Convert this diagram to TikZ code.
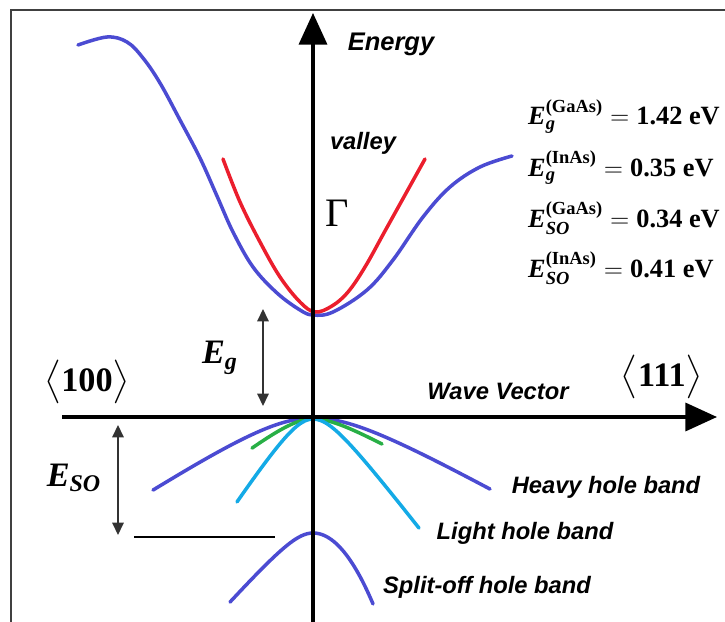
\documentclass[tikz,border=0pt]{standalone}
\usepackage{amsmath}
\usepackage{fontspec}
\setmainfont{Liberation Serif}
\newfontfamily\bandfont{Liberation Sans}
\usetikzlibrary{arrows.meta}
\definecolor{bandblue}{RGB}{75,75,210}
\definecolor{bandred}{RGB}{235,30,45}
\definecolor{bandgreen}{RGB}{40,175,70}
\definecolor{bandcyan}{RGB}{20,170,230}
\newcommand{\gapline}[3]{$\text{\bfseries\itshape E}_{\text{\bfseries\itshape #1}}^{\text{\bfseries(#2)}}=\text{\bfseries #3 eV}$}

\begin{document}
\begin{tikzpicture}[x=0.02cm, y=-0.02cm,
    axis/.style={line width=1.8pt, -{Triangle[length=18pt,width=16pt]}},
    gap arrow/.style={line width=0.8pt, black!80, {Triangle[length=7pt,width=6.5pt]}-{Triangle[length=7pt,width=6.5pt]}},
    band/.style={line width=2pt, line cap=round},
    band label/.style={font=\bandfont\bfseries\itshape\fontsize{13.5}{16}\selectfont},
    big sym/.style={font=\fontsize{19.5}{22}\selectfont},
    gap value/.style={anchor=base west, font=\fontsize{15}{17}\selectfont}]
    \useasboundingbox (0,0) rectangle (725,622);
    \draw[line width=0.9pt, black!75] (11,622) -- (11,10) -- (725,10);

    \coordinate (k start) at (62,417);
    \coordinate (k tip) at (717,417);
    \coordinate (e start) at (313,622);
    \coordinate (e tip) at (313,13);
    \coordinate (eg top) at (263,309);
    \coordinate (eg bottom) at (263,406);
    \coordinate (eso top) at (118,425);
    \coordinate (eso bottom) at (118,535);
    \coordinate (so left) at (134,537);
    \coordinate (so right) at (275,537);

    \draw[band, bandblue] plot[smooth, tension=0.6] coordinates {(78,45) (107,37) (127,42) (143,58) (160,83) (180,120) (200,158) (217,196) (233,232) (253,267) (277,293) (300,310) (313,315) (333,312) (367,290) (393,260) (423,217) (450,187) (480,167) (512,156)};
    \draw[band, bandred] plot[smooth, tension=0.6] coordinates {(223,159) (240,202) (260,242) (280,277) (300,302) (315,312) (332,306) (348,292) (365,267) (385,231) (405,195) (425,159)};
    \draw[band, bandblue] plot[domain=-160:0, samples=40] ({313+\x},{418+39*(sqrt(1+(\x/60)^2)-1)}) -- plot[domain=0:177, samples=40] ({313+\x},{418+33.6*(sqrt(1+(\x/60)^2)-1)});
    \draw[band, bandgreen] plot[domain=-61:0, samples=30] ({313+\x},{419+23*(sqrt(1+(\x/30)^2)-1)}) -- plot[domain=0:69, samples=30] ({313+\x},{419+16.6*(sqrt(1+(\x/30)^2)-1)});
    \draw[band, bandcyan] plot[domain=-76:0, samples=30] ({313+\x},{419+37.7*(sqrt(1+(\x/25)^2)-1)}) -- plot[domain=0:106, samples=30] ({313+\x},{419+32.5*(sqrt(1+(\x/25)^2)-1)});
    \draw[band, bandblue] plot[domain=-83:0, samples=30] ({313+\x},{533+28*(sqrt(1+(\x/25)^2)-1)}) -- plot[domain=0:60, samples=30] ({313+\x},{533+0.0197*\x*\x});

    \draw[axis] (k start) -- (k tip);
    \draw[axis] (e start) -- (e tip);
    \draw[gap arrow] (eg top) -- (eg bottom);
    \draw[gap arrow] (eso top) -- (eso bottom);
    \draw[line width=0.7pt] (so left) -- (so right);

    \node[band label, font=\bandfont\bfseries\itshape\fontsize{14.5}{17}\selectfont] (energy) at (391,44) {Energy};
    \node[band label] (valley) at (363,143) {valley};
    \node[band label] (wave) at (498,391) {Wave Vector};
    \node[band label] (heavy) at (606,487) {Heavy hole band};
    \node[band label] (light) at (525,533) {Light hole band};
    \node[band label] (splitoff) at (487,587) {Split-off hole band};
    \node[font=\fontsize{23}{26}\selectfont] (gamma) at (337,213) {Γ};
    \node[big sym] (eg label) at (220,358) {$\text{\bfseries\itshape E}_{\text{\bfseries\itshape g}}$};
    \node[big sym] (eso label) at (74,478) {$\text{\bfseries\itshape E}_{\text{\bfseries\itshape SO}}$};
    \node[big sym] (dir100) at (87,382) {$\big\langle\text{\bfseries 100}\big\rangle$};
    \node[big sym] (dir111) at (662,377) {$\big\langle\text{\bfseries 111}\big\rangle$};
    \node[gap value] (gaas gap) at (522,125) {\gapline{g}{GaAs}{1.42}};
    \node[gap value] (inas gap) at (522,176) {\gapline{g}{InAs}{0.35}};
    \node[gap value] (gaas so) at (522,227) {\gapline{SO}{GaAs}{0.34}};
    \node[gap value] (inas so) at (522,277) {\gapline{SO}{InAs}{0.41}};
\end{tikzpicture}
\end{document}
